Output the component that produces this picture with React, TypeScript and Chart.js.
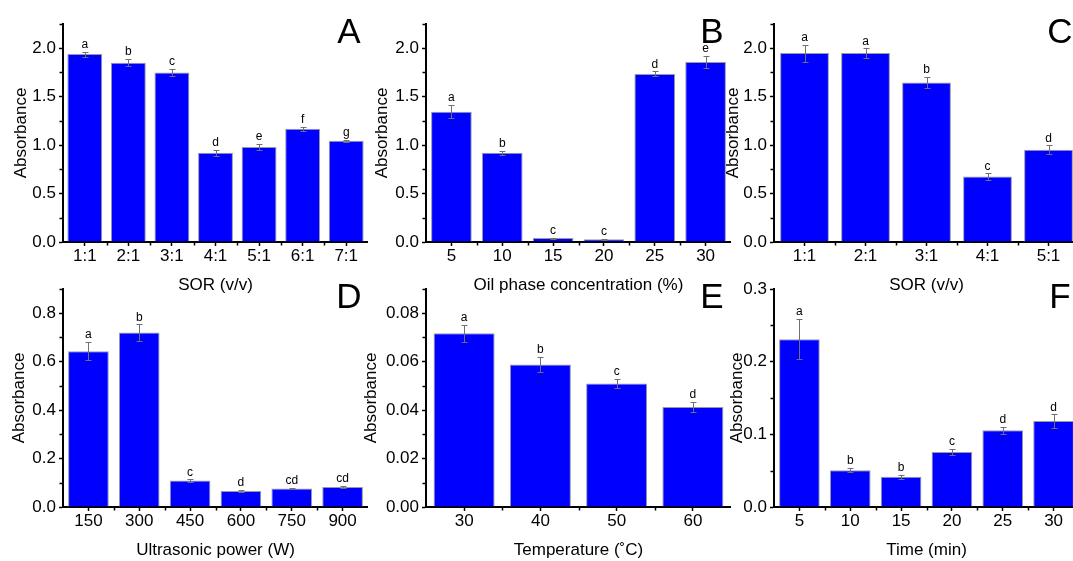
import React, { useEffect, useRef } from 'react';
import { Chart, registerables } from 'chart.js';

Chart.register(...registerables);

const FONT = "Arial, 'Liberation Sans', sans-serif";

// ---------- data ----------
const catsA = ['1:1', '2:1', '3:1', '4:1', '5:1', '6:1', '7:1'];
const valsA = [1.94, 1.85, 1.75, 0.922, 0.98, 1.17, 1.045];
const errsA = [0.026, 0.038, 0.038, 0.03, 0.031, 0.02, 0.012];
const letsA = ['a', 'b', 'c', 'd', 'e', 'f', 'g'];
const ticksA = [0, 0.5, 1.0, 1.5, 2.0];

const catsB = ['5', '10', '15', '20', '25', '30'];
const valsB = [1.345, 0.92, 0.04, 0.028, 1.735, 1.857];
const errsB = [0.07, 0.024, 0.005, 0.004, 0.026, 0.064];
const letsB = ['a', 'b', 'c', 'c', 'd', 'e'];
const ticksB = [0, 0.5, 1.0, 1.5, 2.0];

const catsC = ['1:1', '2:1', '3:1', '4:1', '5:1'];
const valsC = [1.95, 1.95, 1.646, 0.675, 0.951];
const errsC = [0.088, 0.048, 0.057, 0.034, 0.046];
const letsC = ['a', 'a', 'b', 'c', 'd'];
const ticksC = [0, 0.5, 1.0, 1.5, 2.0];

const catsD = ['150', '300', '450', '600', '750', '900'];
const valsD = [0.643, 0.72, 0.109, 0.066, 0.076, 0.083];
const errsD = [0.038, 0.034, 0.005, 0.006, 0.002, 0.004];
const letsD = ['a', 'b', 'c', 'd', 'cd', 'cd'];
const ticksD = [0, 0.2, 0.4, 0.6, 0.8];

const catsE = ['30', '40', '50', '60'];
const valsE = [0.0717, 0.0588, 0.051, 0.0413];
const errsE = [0.0034, 0.0031, 0.002, 0.002];
const letsE = ['a', 'b', 'c', 'd'];
const ticksE = [0, 0.02, 0.04, 0.06, 0.08];

const catsF = ['5', '10', '15', '20', '25', '30'];
const valsF = [0.231, 0.0505, 0.0417, 0.0757, 0.1055, 0.1183];
const errsF = [0.0275, 0.003, 0.003, 0.004, 0.005, 0.009];
const letsF = ['a', 'b', 'b', 'c', 'd', 'd'];
const ticksF = [0, 0.1, 0.2, 0.3];

// ---------- layout ----------
const AXIS_W = 70;
const AXIS_H = 56;
const PAD_TOP = 20;
const PLOT_W = 305;
const PLOT_H = 218;
const COL_LEFT = [63, 426, 774];
const ROW_TOP = [24, 289];

type PanelProps = {
  cats: string[];
  vals: number[];
  errs: number[];
  lets: string[];
  yTicks: number[];
  yMax: number;
  decimals: number;
  xTitle: string;
  label: string;
  col: number;
  row: number;
  yTitlePad: number;
};

function Panel(p: PanelProps) {
  const ref = useRef<HTMLCanvasElement | null>(null);
  const cw = AXIS_W + PLOT_W;
  const ch = PAD_TOP + PLOT_H + AXIS_H;
  const left = COL_LEFT[p.col] - AXIS_W;
  const top = ROW_TOP[p.row] - PAD_TOP;

  useEffect(() => {
    if (!ref.current) return;
    const step = p.yTicks[1] - p.yTicks[0];
    const minor: number[] = [];
    for (let i = 0; i < p.yTicks.length; i++) {
      const m = p.yTicks[i] + step / 2;
      if (m <= p.yMax + 1e-9) minor.push(m);
    }
    const annot = {
      id: 'annot',
      afterDraw(chart: any) {
        const { ctx, scales, chartArea } = chart;
        const x = scales.x;
        const y = scales.y;
        ctx.save();
        // error bars
        ctx.strokeStyle = '#707070';
        ctx.lineWidth = 1;
        p.vals.forEach((v, i) => {
          const px = Math.round(x.getPixelForValue(i)) + 0.5;
          const yt = Math.round(y.getPixelForValue(v + p.errs[i])) + 0.5;
          const yb = Math.round(y.getPixelForValue(v - p.errs[i])) + 0.5;
          ctx.beginPath();
          ctx.moveTo(px, yt);
          ctx.lineTo(px, yb);
          ctx.moveTo(px - 3, yt);
          ctx.lineTo(px + 3, yt);
          ctx.moveTo(px - 3, yb);
          ctx.lineTo(px + 3, yb);
          ctx.stroke();
        });
        // letters
        ctx.fillStyle = '#000';
        ctx.font = `12px ${FONT}`;
        ctx.textAlign = 'center';
        ctx.textBaseline = 'bottom';
        p.vals.forEach((v, i) => {
          const px = x.getPixelForValue(i);
          const yt = y.getPixelForValue(v + p.errs[i]);
          ctx.fillText(p.lets[i], px, yt - 1);
        });
        // minor ticks
        ctx.strokeStyle = '#000';
        ctx.lineWidth = 1.5;
        ctx.beginPath();
        minor.forEach((m) => {
          const py = Math.round(y.getPixelForValue(m)) + 0.5;
          ctx.moveTo(chartArea.left - 1, py);
          ctx.lineTo(chartArea.left - 3.5, py);
        });
        for (let i = 0; i < p.cats.length - 1; i++) {
          const px = Math.round(x.getPixelForValue(i + 0.5)) + 0.5;
          ctx.moveTo(px, chartArea.bottom + 1);
          ctx.lineTo(px, chartArea.bottom + 3.5);
        }
        ctx.stroke();
        // panel label
        ctx.fillStyle = '#000';
        ctx.font = `35px ${FONT}`;
        ctx.textAlign = 'center';
        ctx.textBaseline = 'alphabetic';
        ctx.fillText(p.label, chartArea.right - 19, chartArea.top + 19);
        ctx.restore();
      },
    };

    const chart = new Chart(ref.current, {
      type: 'bar',
      data: {
        labels: p.cats,
        datasets: [
          {
            data: p.vals,
            backgroundColor: '#0000FF',
            borderColor: '#9a9a9a',
            borderWidth: 1,
            barPercentage: 0.8,
            categoryPercentage: 1,
          },
        ],
      },
      options: {
        animation: false,
        responsive: false,
        devicePixelRatio: 1,
        layout: { padding: { top: PAD_TOP, left: 0, right: 0, bottom: 0 } },
        plugins: { legend: { display: false }, tooltip: { enabled: false } },
        scales: {
          x: {
            offset: true,
            grid: {
              display: true,
              drawOnChartArea: false,
              drawTicks: true,
              tickLength: 4,
              offset: false,
              color: '#000',
              tickWidth: 1.5,
            },
            border: { display: true, color: '#000', width: 2 },
            ticks: {
              color: '#000',
              font: { family: FONT, size: 17 },
              padding: 0,
              maxRotation: 0,
              autoSkip: false,
            },
            title: {
              display: true,
              text: p.xTitle,
              color: '#000',
              font: { family: FONT, size: 17 },
              padding: { top: 0, bottom: 2 },
            },
            afterFit: (s: any) => {
              s.height = AXIS_H;
            },
          },
          y: {
            min: 0,
            max: p.yMax,
            afterBuildTicks: (s: any) => {
              s.ticks = p.yTicks.map((v) => ({ value: v }));
            },
            grid: {
              display: true,
              drawOnChartArea: false,
              drawTicks: true,
              tickLength: 4,
              color: '#000',
              tickWidth: 1.5,
            },
            border: { display: true, color: '#000', width: 2 },
            ticks: {
              color: '#000',
              font: { family: FONT, size: 17 },
              padding: 3,
              callback: (v: any) => Number(v).toFixed(p.decimals),
            },
            title: {
              display: true,
              text: 'Absorbance',
              color: '#000',
              font: { family: FONT, size: 17 },
              padding: { top: p.yTitlePad, bottom: 0 },
            },
            afterFit: (s: any) => {
              s.width = AXIS_W;
            },
          },
        },
      },
      plugins: [annot],
    } as any);
    return () => chart.destroy();
  }, []);

  return (
    <canvas
      ref={ref}
      width={cw}
      height={ch}
      style={{ position: 'absolute', left, top, width: cw, height: ch }}
    />
  );
}

export default function App() {
  return (
    <div
      style={{
        position: 'fixed',
        left: 0,
        top: 0,
        width: 1073,
        height: 561,
        overflow: 'hidden',
        background: '#fff',
      }}
    >
      <Panel cats={catsA} vals={valsA} errs={errsA} lets={letsA} yTicks={ticksA} yMax={2.25} decimals={1} xTitle="SOR (v/v)" label="A" col={0} row={0} yTitlePad={18} />
      <Panel cats={catsB} vals={valsB} errs={errsB} lets={letsB} yTicks={ticksB} yMax={2.25} decimals={1} xTitle="Oil phase concentration (%)" label="B" col={1} row={0} yTitlePad={16} />
      <Panel cats={catsC} vals={valsC} errs={errsC} lets={letsC} yTicks={ticksC} yMax={2.25} decimals={1} xTitle="SOR (v/v)" label="C" col={2} row={0} yTitlePad={19} />
      <Panel cats={catsD} vals={valsD} errs={errsD} lets={letsD} yTicks={ticksD} yMax={0.9} decimals={1} xTitle="Ultrasonic power (W)" label="D" col={0} row={1} yTitlePad={16} />
      <Panel cats={catsE} vals={valsE} errs={errsE} lets={letsE} yTicks={ticksE} yMax={0.09} decimals={2} xTitle="Temperature (˚C)" label="E" col={1} row={1} yTitlePad={5} />
      <Panel cats={catsF} vals={valsF} errs={errsF} lets={letsF} yTicks={ticksF} yMax={0.3} decimals={1} xTitle="Time (min)" label="F" col={2} row={1} yTitlePad={23} />
    </div>
  );
}
